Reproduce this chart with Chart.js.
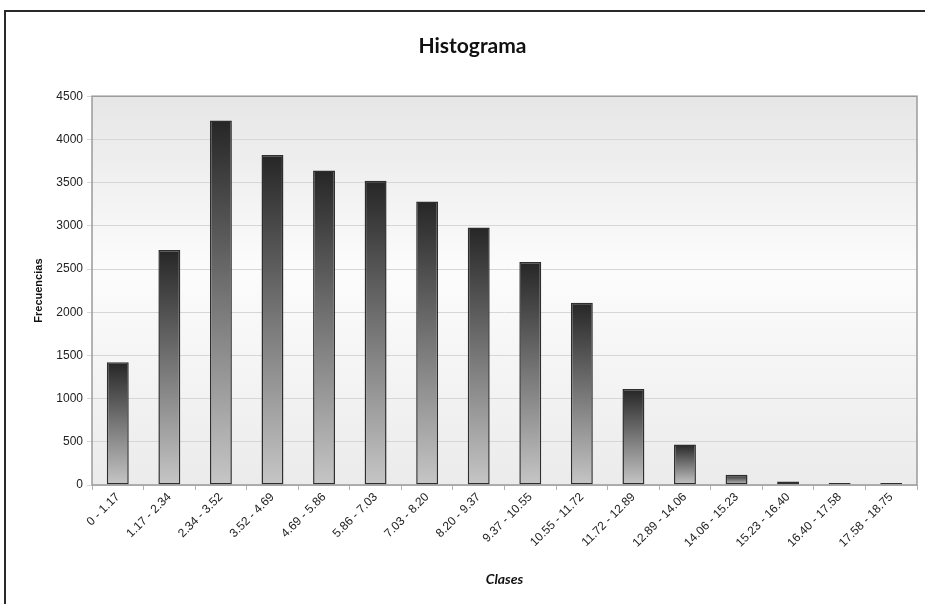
<!DOCTYPE html>
<html>
<head>
<meta charset="utf-8">
<script src="https://cdn.jsdelivr.net/npm/chart.js@4.4.0/dist/chart.umd.min.js"></script>
<style>
  html, body { margin: 0; padding: 0; background: #fff; overflow: hidden; }
  #marco { position: absolute; left: 4px; top: 10px; width: 960px; height: 640px;
           border-top: 2px solid #2a2a2a; border-left: 2px solid #2a2a2a; }
  #wrap { position: absolute; left: 0; top: 0; width: 925px; height: 604px; }
</style>
</head>
<body>
<div id="marco"></div>
<div id="wrap"><canvas id="histograma"></canvas></div>
<script>
// Datos del histograma
const clases = ['0 - 1.17', '1.17 - 2.34', '2.34 - 3.52', '3.52 - 4.69', '4.69 - 5.86', '5.86 - 7.03',
                '7.03 - 8.20', '8.20 - 9.37', '9.37 - 10.55', '10.55 - 11.72', '11.72 - 12.89',
                '12.89 - 14.06', '14.06 - 15.23', '15.23 - 16.40', '16.40 - 17.58', '17.58 - 18.75'];
const frecuencias = [1420, 2720, 4220, 3820, 3640, 3520, 3280, 2980, 2580, 2110, 1110, 470, 120, 40, 8, 4];
const ticksY = [0, 500, 1000, 1500, 2000, 2500, 3000, 3500, 4000, 4500];

// Fondo degradado del área de trazado y marco gris
const fondoPlot = {
    id: 'fondoPlot',
    beforeDraw(chart) {
        const { ctx, chartArea: a } = chart;
        const g = ctx.createLinearGradient(0, a.top, 0, a.bottom);
        g.addColorStop(0, '#e6e6e6');
        g.addColorStop(0.45, '#fcfcfc');
        g.addColorStop(1, '#ebebeb');
        ctx.save();
        ctx.fillStyle = g;
        ctx.fillRect(a.left, a.top, a.right - a.left, a.bottom - a.top);
        ctx.restore();
    },
    afterDatasetsDraw(chart) {
        const { ctx, chartArea: a } = chart;
        ctx.save();
        ctx.strokeStyle = '#9a9a9a';
        ctx.lineWidth = 1.5;
        ctx.strokeRect(a.left, a.top, a.right - a.left, a.bottom - a.top);
        ctx.restore();
    }
};

// Degradado de cada barra: oscuro arriba, claro abajo
function degradadoBarra(context) {
    const chart = context.chart;
    if (!chart.chartArea) return '#777';
    const y = chart.scales.y;
    const arriba = y.getPixelForValue(context.raw);
    const abajo = y.getPixelForValue(0);
    const g = chart.ctx.createLinearGradient(0, arriba, 0, Math.max(abajo, arriba + 1));
    g.addColorStop(0, '#262626');
    g.addColorStop(0.5, '#777777');
    g.addColorStop(1, '#c6c6c6');
    return g;
}

new Chart(document.getElementById('histograma'), {
    type: 'bar',
    data: {
        labels: clases,
        datasets: [{
            label: 'Frecuencias',
            data: frecuencias,
            backgroundColor: degradadoBarra,
            borderColor: '#2e2e2e',
            borderWidth: 1.5,
            borderSkipped: false,
            minBarLength: 2,
            barPercentage: 0.85,
            categoryPercentage: 0.5
        }]
    },
    options: {
        responsive: true,
        maintainAspectRatio: false,
        animation: false,
        layout: { padding: { left: 28, right: 8, top: 0, bottom: 0 } },
        plugins: {
            legend: { display: false },
            tooltip: { enabled: false },
            title: {
                display: true,
                text: 'Histograma',
                color: '#111',
                font: { family: 'Lato', size: 21, weight: 'bold' },
                padding: { top: 34, bottom: 37 }
            }
        },
        scales: {
            x: {
                offset: true,
                grid: { offset: true, drawOnChartArea: false, tickLength: 5, color: '#b0b0b0' },
                border: { display: false },
                ticks: {
                    color: '#222',
                    font: { family: 'Liberation Sans', size: 12 },
                    maxRotation: 45, minRotation: 45,
                    padding: 0
                },
                title: {
                    display: true,
                    text: 'Clases',
                    color: '#111',
                    font: { family: 'Lato', size: 14, weight: 'bold', style: 'italic' },
                    padding: { top: 8, bottom: 16 }
                },
                afterFit(scale) { scale.height = 119; }
            },
            y: {
                min: 0, max: 4500,
                afterBuildTicks(scale) { scale.ticks = ticksY.map(v => ({ value: v })); },
                grid: { color: '#d6d6d6', tickLength: 5, lineWidth: 1 },
                border: { display: false },
                ticks: {
                    color: '#222',
                    font: { family: 'Liberation Sans', size: 12 },
                    padding: 4,
                    callback: v => String(v)
                },
                title: {
                    display: true,
                    text: 'Frecuencias',
                    color: '#111',
                    font: { family: 'Liberation Sans', size: 11, weight: 'bold' },
                    padding: { bottom: 0 }
                },
                afterFit(scale) { scale.width = 64; }
            }
        }
    },
    plugins: [fondoPlot]
});
</script>
</body>
</html>
